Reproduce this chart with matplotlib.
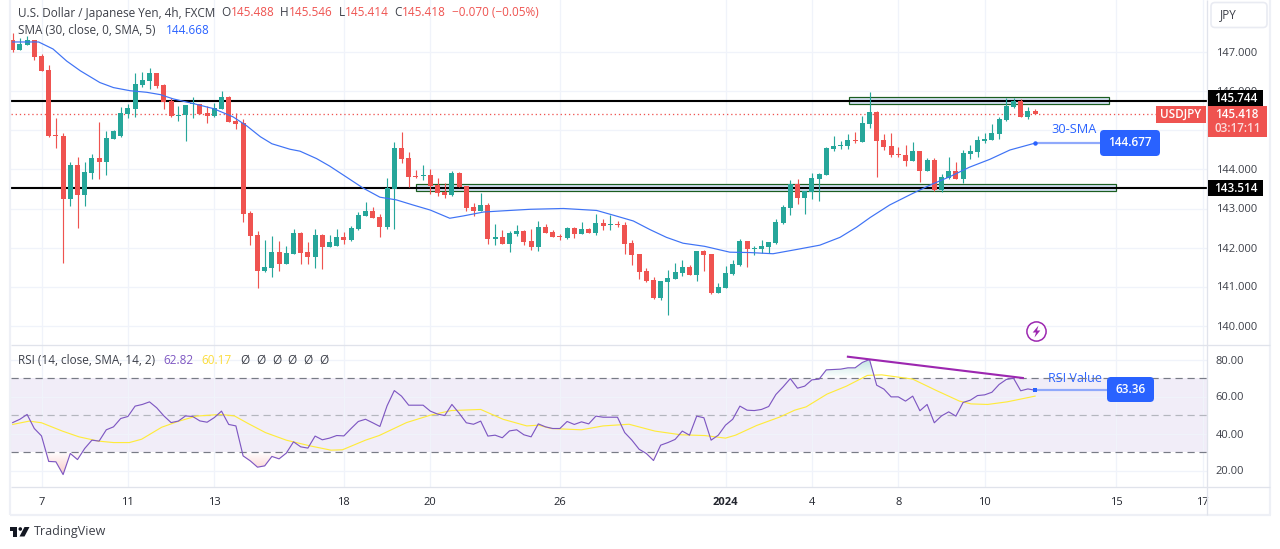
import numpy as np
import matplotlib
matplotlib.use("Agg")
import matplotlib.pyplot as plt
from matplotlib.patches import Rectangle, FancyBboxPatch, Circle, Polygon
from matplotlib.path import Path

plt.rcParams['font.family'] = ['Open Sans', 'DejaVu Sans']

opens = [147.32,147.06,147.19,147.32,146.91,146.55,144.88,144.85,143.24,144.11,143.34,143.91,144.29,144.19,144.78,144.85,145.42,145.55,146.16,146.26,
146.47,146.16,145.75,145.38,145.39,145.67,145.67,145.44,145.37,145.55,145.85,145.24,145.19,142.88,142.32,141.39,141.47,141.88,141.57,141.83,
142.37,141.88,141.75,142.32,142.01,142.04,142.27,142.19,142.47,142.81,142.94,142.78,142.53,143.50,144.55,144.29,143.83,143.83,143.86,143.60,
143.42,143.35,143.91,143.58,143.04,142.94,143.09,142.22,142.27,142.09,142.35,142.42,142.17,142.01,142.53,142.40,142.29,142.24,142.50,142.35,
142.47,142.37,142.63,142.58,142.60,142.58,142.12,141.83,141.40,141.17,140.71,141.12,141.19,141.35,141.50,141.30,141.91,141.83,140.83,140.96,
141.32,141.55,142.17,141.96,141.96,142.01,142.11,142.63,143.01,143.63,143.27,143.42,143.76,143.86,144.53,144.60,144.60,144.76,144.70,145.17,
145.47,144.76,144.60,144.40,144.37,144.22,144.47,143.96,144.24,143.47,143.78,143.96,143.76,144.40,144.45,144.73,144.76,144.91,145.27,145.60,
145.76,145.35,145.488]
highs = [147.50,147.38,147.42,147.32,146.97,146.68,145.32,144.94,144.18,144.31,144.18,144.41,145.21,144.99,145.01,145.59,145.68,146.47,146.50,146.60,
146.47,146.19,145.83,145.62,145.65,145.85,145.67,145.62,145.70,146.01,145.88,145.44,145.29,142.93,142.42,142.19,142.29,142.16,142.03,142.47,
142.39,142.14,142.47,142.34,142.32,142.47,142.40,142.55,142.91,143.17,143.04,142.86,143.78,144.70,144.96,144.45,143.99,144.12,144.01,143.78,
143.65,143.96,143.94,143.58,143.14,143.40,143.14,142.60,142.45,142.42,142.58,142.45,142.47,142.68,142.60,142.45,142.35,142.53,142.53,142.65,
142.50,142.86,142.73,142.83,142.68,142.65,142.19,141.83,141.47,141.24,141.14,141.42,141.60,141.68,141.55,141.91,141.94,141.83,141.09,141.53,
141.68,142.22,142.17,142.04,142.19,142.14,142.73,143.09,143.73,143.76,143.45,143.91,143.91,144.58,144.86,144.73,144.91,144.96,145.37,145.99,
145.50,144.91,144.94,144.58,144.63,144.71,144.47,144.29,144.29,143.88,144.32,144.19,144.50,144.63,144.86,144.94,145.17,145.35,145.83,145.83,
145.81,145.60,145.546]
lows = [147.02,147.06,147.19,146.80,146.53,144.84,144.56,141.61,143.07,142.50,143.07,143.75,143.75,143.85,144.78,144.84,145.32,145.35,146.11,146.06,
146.09,145.55,145.35,145.24,144.73,145.32,145.42,145.19,145.34,145.55,145.21,145.03,142.65,142.06,140.96,141.37,141.24,141.39,141.57,141.83,
141.57,141.57,141.47,141.44,142.01,142.04,142.09,142.17,142.45,142.81,142.76,142.27,142.47,142.47,144.17,143.55,143.78,143.73,143.37,143.32,
143.27,143.32,143.55,142.94,142.81,142.94,142.09,142.06,142.09,141.88,142.30,142.06,141.94,141.91,142.37,142.27,142.19,142.22,142.24,142.35,
142.37,142.32,142.45,142.45,142.53,141.83,141.55,141.19,141.11,140.68,140.65,140.27,141.19,141.27,141.30,141.14,141.40,140.81,140.83,140.96,
141.29,141.53,141.50,141.81,141.86,141.86,142.09,142.60,142.83,143.12,142.86,143.24,143.19,143.86,144.47,144.53,144.53,144.68,144.70,145.06,
143.81,144.50,144.32,144.32,144.09,144.22,143.68,143.96,143.45,143.42,143.76,143.76,143.65,144.27,144.32,144.68,144.76,144.78,145.24,145.58,
145.35,145.29,145.414]
closes = [147.06,147.21,147.32,146.89,146.53,144.85,144.86,143.24,144.11,143.34,143.93,144.29,144.19,144.80,144.98,145.44,145.57,146.19,146.29,146.47,
146.14,145.74,145.37,145.41,145.65,145.69,145.42,145.37,145.57,145.85,145.21,145.16,142.85,142.29,141.39,141.50,141.88,141.57,141.85,142.37,
141.85,141.75,142.32,142.01,142.14,142.27,142.19,142.50,142.83,142.94,142.76,142.53,143.53,144.55,144.27,143.81,143.81,143.86,143.58,143.40,
143.35,143.91,143.55,143.01,142.94,143.09,142.22,142.27,142.09,142.37,142.42,142.14,142.01,142.53,142.37,142.27,142.27,142.50,142.35,142.47,
142.37,142.63,142.55,142.60,142.58,142.09,141.81,141.37,141.14,140.71,141.14,141.22,141.37,141.50,141.30,141.91,141.81,140.83,140.99,141.35,
141.58,142.17,141.96,141.99,142.04,142.14,142.65,143.04,143.63,143.27,143.45,143.78,143.88,144.55,144.60,144.63,144.76,144.73,145.19,145.47,
144.73,144.58,144.37,144.37,144.22,144.47,143.96,144.24,143.47,143.81,143.96,143.76,144.42,144.47,144.76,144.78,144.94,145.29,145.63,145.76,
145.35,145.50,145.418]

sma_idx = [0,3.6,5.6,7.5,9.4,12.1,14,16.3,18.6,20.5,22.3,25.1,27.9,30.6,32.5,34.4,36,38.5,39.9,42.2,44,46.4,48.7,51,53.3,55.6,58,60.7,62.6,65.4,68.1,71.9,76.5,81.1,83.4,86.2,88.5,90.8,93.1,96.1,99.6,102.4,105.6,108.9,112.1,114.9,117.2,119.1,121.8,124.6,127.4,130.2,132.9,135.7,138.5,142]
sma_val = [147.27,147.27,147.09,146.78,146.53,146.23,146.10,146.02,145.98,145.92,145.81,145.69,145.56,145.35,145.12,144.84,144.66,144.52,144.47,144.28,144.09,143.80,143.52,143.29,143.22,143.09,142.96,142.75,142.81,142.91,142.94,142.98,143.00,142.95,142.83,142.68,142.46,142.26,142.11,142.03,141.88,141.87,141.84,141.95,142.06,142.26,142.52,142.77,143.09,143.35,143.60,143.82,144.06,144.26,144.50,144.677]

rsi_val = [45.9,47.7,50.3,42.7,38.7,24.9,24.7,17.8,29.2,25.9,31.9,36.4,35.9,42.0,43.6,48.1,49.2,54.8,55.7,57.1,53.9,49.5,45.9,46.7,49.5,49.2,46.8,46.1,48.6,52.1,44.9,44.1,27.9,25.2,21.8,22.5,27.6,26.3,29.4,35.5,32.8,32.1,38.6,36.6,37.5,38.9,38.7,42.7,46.5,47.7,45.8,43.8,55.0,63.2,60.2,55.3,55.3,55.3,52.1,50.5,49.7,55.7,51.0,45.8,45.0,46.7,38.6,39.1,37.7,41.4,42.0,39.3,38.2,45.2,
43.6,42.7,42.7,46.5,44.9,46.3,45.2,49.4,48.8,48.8,48.8,40.5,36.4,31.5,29.2,25.4,33.7,35.1,36.8,41.3,39.1,49.4,48.5,36.4,39.1,44.5,47.7,54.8,52.6,52.4,53.0,54.6,61.1,65.2,69.7,64.5,65.6,69.0,69.4,74.4,74.6,74.8,75.5,75.5,78.4,80.0,66.1,64.0,59.8,59.8,57.5,60.2,52.3,55.7,45.8,49.5,51.7,49.4,56.8,58.0,60.5,60.9,62.3,66.5,69.2,69.9,63.1,64.1,63.36]

ma_idx = [0,2.3,4,6.9,9.2,11.9,14,16.2,17.9,20.7,23.1,25.5,28.9,30.8,32.7,35.1,38,41.3,44.2,45.8,49,50.9,54.7,58,60.9,65,68.1,71.4,73,74.8,79,82,85.6,89.2,92.8,96.1,99,100.4,103.3,106.6,108.6,110.2,113.1,115.8,118.7,120.7,125,128.2,131.5,133.1,135.4,138.1,142]
ma_val = [44.9,46.7,45.8,41.3,38.2,35.9,35.1,35.1,36.9,43.4,46.7,49.4,50.3,49.5,45.4,40.5,36.4,33.3,31.0,31.2,36.4,38.9,45.9,49.9,52.4,53.0,47.7,44.1,44.5,42.7,42.0,44.1,45.0,41.3,39.3,38.9,37.5,39.1,44.3,49.0,52.6,54.4,61.3,65.6,71.4,71.7,69.4,63.4,57.5,56.0,55.7,57.1,60.2]

tick_idx = [4,16,28,46,58,76,99,111,123,135,153.3,165.3]
tick_labels = ['7','11','13','18','20','26','2024','4','8','10','15','17']
price_ticks = [140,141,142,143,144,145,146,147]
rsi_ticks = [20,40,60,80]
support = 143.514
resistance = 145.744
last_price = 145.418
sma_label = 144.677
rsi_label = 63.36

W, H = 1280, 549
RED, GREEN = '#ef5350', '#26a69a'
GRID = '#f0f3fa'
TXT = '#3d4049'
BLUE = '#2962ff'
PURPLE = '#7e57c2'
YEL = '#ffeb3b'
L, R = 10.5, 1207.3
PX = 0.72

fig = plt.figure(figsize=(W/100, H/100), dpi=100, facecolor='white')
def axpx(x0, y0, x1, y1, **k):
    return fig.add_axes([x0/W, 1-y1/H, (x1-x0)/W, (y1-y0)/H], **k)

ax = axpx(L, 0, R, 344.5)
rs = axpx(L, 344.5, R, 487.3)
ov = axpx(0, 0, W, H, facecolor='none', zorder=10)
ov.set_xlim(0, W); ov.set_ylim(H, 0); ov.axis('off')

x0 = (L-12.7)/7.2; x1 = (R-12.7)/7.2
for a in (ax, rs):
    a.set_xlim(x0, x1)
    a.set_xticks(tick_idx)
    a.grid(True, color=GRID, lw=1.0*PX*1.3)
    a.set_axisbelow(True)
    for s in a.spines.values():
        s.set_visible(False)
    a.yaxis.tick_right()
    a.tick_params(length=0, labelsize=8, labelcolor=TXT, pad=6)

ax.set_ylim(147-(344.5-52.5)/39, 147+52.5/39)
# the 145.000 label sits fully behind the last-price tag in the reference
ax.set_yticks(price_ticks, ['' if p == 145 else f'{p:.3f}' for p in price_ticks])
ax.tick_params(axis='x', labelbottom=False)
rs.set_ylim(20-(487.3-470.5)/1.85, 80+(359.5-344.5)/1.85)
rs.set_yticks(rsi_ticks, [f'{p:.2f}' for p in rsi_ticks])
rs.set_xticks(tick_idx, tick_labels)
rs.tick_params(axis='x', pad=7, labelcolor='#23262f')
rs.get_xticklabels()[tick_labels.index('2024')].set_fontweight('bold')

# levels and zones
ZONE = '#d4e1f4'
ax.add_patch(Rectangle((116.2, 145.67), 36.0, 0.18, fc=ZONE, ec='#1b5e20', lw=1.0*PX*1.2, zorder=2))
ax.add_patch(Rectangle((56.05, 143.44), 97.25, 0.18, fc=ZONE, ec='#1b5e20', lw=1.0*PX*1.2, zorder=2))
ax.axhline(resistance, color='black', lw=2.1*PX, zorder=3)
ax.axhline(support, color='black', lw=2.1*PX, zorder=3)
ax.axhline(last_price, color=RED, lw=1.3*PX, ls=(0, (1, 2.2)), zorder=3, xmax=(1156-L)/(R-L))

# candles
idx = np.arange(len(opens))
op, hi, lo, cl = map(np.array, (opens, highs, lows, closes))
colors = np.where(cl >= op, GREEN, RED)
ax.vlines(idx, lo, hi, colors=colors, lw=1.15*PX, zorder=4)
ax.bar(idx, np.maximum(np.abs(cl-op), 0.03), bottom=np.minimum(op, cl), width=0.72, color=colors, lw=0, zorder=5)

# SMA
ax.plot(sma_idx, sma_val, color='#3f73f5', lw=1.2*PX, zorder=6)
ax.plot([sma_idx[-1], 152], [sma_label]*2, color='#90a9fb', lw=2.2*PX, zorder=6, solid_capstyle='butt')
ax.plot([sma_idx[-1]], [sma_label], 'o', color=BLUE, ms=3.2, mew=0, zorder=7)
ax.text(150.5, 145.03, '30-SMA', ha='right', va='center', color=BLUE, fontsize=9.2, zorder=7)

# RSI
rs.axhspan(30, 70, fc=PURPLE, alpha=.1, lw=0, zorder=0.5)
for lvl, col in ((70, '#787b86'), (50, '#b4b6be'), (30, '#787b86')):
    rs.axhline(lvl, color=col, lw=1.0*PX*1.2, ls=(0, (6, 4)), zorder=2)
rsi_x = np.arange(len(rsi_val))
rsi = np.array(rsi_val)
lowfill = rs.fill_between(rsi_x, rsi, 30, where=rsi < 30, interpolate=True, color='none')
highfill = rs.fill_between(rsi_x, rsi, 70, where=rsi > 70, interpolate=True, color='none')
def gradient(coll, top, bottom, rgb, flip):
    path = Path.make_compound_path(*coll.get_paths())
    a = np.linspace(0, .32, 64).reshape(-1, 1)
    if flip:
        a = a[::-1]
    img = np.zeros((64, 1, 4))
    img[..., :3] = matplotlib.colors.to_rgb(rgb)
    img[..., 3] = a
    im = rs.imshow(img, extent=(x0, x1, bottom, top), origin='upper', aspect='auto', zorder=1.5)
    im.set_clip_path(path, transform=rs.transData)
gradient(lowfill, 30, 17, RED, False)
gradient(highfill, 81, 70, GREEN, True)
rs.set_xlim(x0, x1)
rs.set_ylim(20-(487.3-470.5)/1.85, 80+(359.5-344.5)/1.85)
rs.plot(ma_idx, ma_val, color=YEL, lw=1.15*PX, zorder=3)
rs.plot(rsi_x, rsi, color=PURPLE, lw=1.15*PX, zorder=4)
rs.plot([116, 140.3], [81.5, 70.0], color='#9c27b0', lw=2.1*PX, zorder=5)
rs.plot([rsi_x[-1], 152], [rsi_label]*2, color='#90a9fb', lw=2.2*PX, zorder=5, solid_capstyle='butt')
rs.plot([rsi_x[-1]], [rsi_label], 's', color=BLUE, ms=2.8, mew=0, zorder=6)
rs.text(151.3, 70, 'RSI Value', ha='right', va='center', color=BLUE, fontsize=9, zorder=1.8)

# frame
for xs, ys, c, lw in (([L-.5, L-.5], [0, 515], '#eef0f6', 2.2), ([1270, 1270], [0, 515], '#eef0f6', 2.2),
                      ([9.5, 1271], [514.8, 514.8], '#eef0f6', 2.2), ([R, R], [0, 515], '#e0e3eb', 1.3),
                      ([L, 1270], [344.5, 344.5], '#e0e3eb', 1.3), ([L, 1270], [487.3, 487.3], '#e0e3eb', 1.3)):
    ov.plot(xs, ys, color=c, lw=lw*PX, solid_capstyle='butt', zorder=1)

def box(x0_, y0_, x1_, y1_, fc, round_=0.0, ec='none', lw=0):
    if round_:
        p = FancyBboxPatch((x0_+round_, y0_+round_), x1_-x0_-2*round_, y1_-y0_-2*round_,
                           boxstyle=f'round,pad={round_},rounding_size={round_}', fc=fc, ec=ec, lw=lw, zorder=3)
    else:
        p = Rectangle((x0_, y0_), x1_-x0_, y1_-y0_, fc=fc, ec=ec, lw=lw, zorder=3)
    ov.add_patch(p)
def label(x, y, s, c='white', size=8.4, weight='semibold', ha='center', alpha=1):
    ov.text(x, y, s, color=c, fontsize=size, fontweight=weight, ha=ha, va='center', zorder=4, alpha=alpha)

box(1207.5, 89.5, 1263, 106, 'black')
label(1235.5, 98, f'{resistance:.3f}')
box(1207.5, 180, 1263, 196, 'black')
label(1235.5, 188.5, f'{support:.3f}')
box(1207.5, 106, 1267, 137, RED)
label(1236.5, 114.5, f'{last_price:.3f}')
label(1238, 128.5, '03:17:11', alpha=.8)
box(1156, 106, 1206, 123, RED)
label(1181, 114.5, 'USDJPY')
box(1100, 130, 1160, 156, BLUE, 4)
label(1130, 143, f'{sma_label:.3f}', size=8.5)
box(1107, 377, 1154, 402, BLUE, 4)
label(1130.5, 389.5, f'{rsi_label:.2f}', size=8.5)
box(1211, 2.5, 1267, 27.5, 'white', 4, ec='#e9ebf2', lw=1.2)
label(1228, 15, 'JPY', c=TXT, weight='normal', size=8.5)

# lightning icon
ov.add_patch(Circle((1036.5, 331.5), 9.6, fc='white', ec='#9c27b0', lw=1.1, zorder=3))
ov.add_patch(Polygon([(1038.5, 325.5), (1032.7, 332.5), (1036, 332.5), (1034.5, 337.5), (1040.3, 330.5), (1037, 330.5)], fc='#9c27b0', ec='none', zorder=4))

# legends
fig.canvas.draw()
rend = fig.canvas.get_renderer()
def chain(x, y, parts, size=8.45):
    for s, c, gap in parts:
        x += gap
        t = ov.text(x, y, s, color=c, fontsize=size, ha='left', va='center', zorder=4)
        bb = t.get_window_extent(rend)
        x += bb.width
chain(18, 13, [('U.S. Dollar / Japanese Yen, 4h, FXCM', TXT, 0), ('O', TXT, 6), ('145.488', RED, 0), ('H', TXT, 6), ('145.546', RED, 0),
               ('L', TXT, 6), ('145.414', RED, 0), ('C', TXT, 6), ('145.418', RED, 0), ('\u22120.070 (\u22120.05%)', RED, 6)])
chain(18, 30, [('SMA (30, close, 0, SMA, 5)', TXT, 0), ('144.668', BLUE, 10)])
chain(18, 360, [('RSI (14, close, SMA, 14, 2)', TXT, 0), ('62.82', PURPLE, 8), ('60.17', '#fbdc3a', 8),
                ('\u00d8', TXT, 9), ('\u00d8', TXT, 6.5), ('\u00d8', TXT, 6.5), ('\u00d8', TXT, 6.5), ('\u00d8', TXT, 6.5), ('\u00d8', TXT, 6.5)])

# TradingView mark
ov.add_patch(Polygon([(10, 527), (17.3, 527), (17.3, 536.5), (13.3, 536.5), (13.3, 530.5), (10, 530.5)], fc='#131722', ec='none', zorder=4))
ov.add_patch(Circle((20.3, 529), 1.8, fc='#131722', ec='none', zorder=4))
ov.add_patch(Polygon([(24.5, 527), (29.5, 527), (24.5, 536.5), (19.5, 536.5)], fc='#131722', ec='none', zorder=4))
ov.text(33.5, 532, 'TradingView', color='#3d4049', fontsize=9.0, ha='left', va='center', zorder=4)

fig.savefig('out.png', dpi=100, facecolor='white')
